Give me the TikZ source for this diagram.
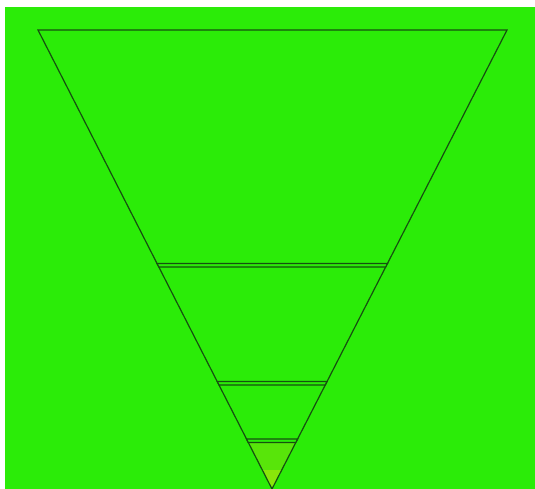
\documentclass[tikz,border=0pt]{standalone}
\usepackage{tikz}
\usetikzlibrary{calc}

\definecolor{fieldgreen}{HTML}{2BEC08}
\definecolor{edgegreen}{HTML}{165010}
\definecolor{lowgreen}{HTML}{58E50A}
\definecolor{tipgreen}{HTML}{8AE60A}

\begin{document}
\begin{tikzpicture}[x=1pt,y=-1pt,line join=miter]
    \useasboundingbox (0,0) rectangle (535,489);
    \fill[white] (0,0) rectangle (535,489);
    \fill[fieldgreen] (5,7) rectangle (535,489);

    \coordinate (tl) at (38,30);
    \coordinate (tr) at (507,30);
    \coordinate (apex) at (272,489);

    % Lower fills
    \fill[lowgreen] ($(tl)!0.8987!(apex)$) -- ($(tr)!0.8987!(apex)$) -- (apex) -- cycle;
    \fill[tipgreen] ($(tl)!0.9586!(apex)$) -- ($(tr)!0.9586!(apex)$) -- (apex) -- cycle;

    % Outline
    \draw[edgegreen,line width=1.2pt] (tl) -- (tr) -- (apex) -- cycle;

    % Bands
    \foreach \a/\b in {0.5087/0.5163, 0.7658/0.7734, 0.8911/0.8987}
        \draw[edgegreen,line width=1.2pt,fill=fieldgreen]
            ($(tl)!\a!(apex)$) -- ($(tr)!\a!(apex)$) -- ($(tr)!\b!(apex)$) -- ($(tl)!\b!(apex)$) -- cycle;
\end{tikzpicture}
\end{document}
